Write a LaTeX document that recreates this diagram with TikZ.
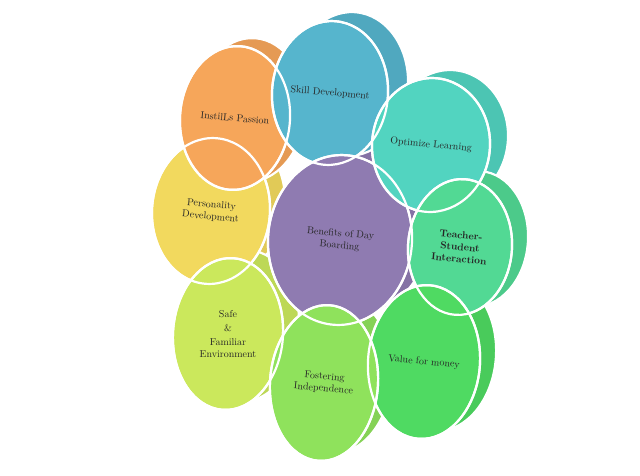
\documentclass[tikz,border=0pt]{standalone}
\usetikzlibrary{shapes.geometric}
\definecolor{OrangeF}{HTML}{F6A65A}
\definecolor{BlueF}{HTML}{56B5CD}
\definecolor{TealF}{HTML}{52D4C0}
\definecolor{YellowF}{HTML}{F2D95E}
\definecolor{PurpleF}{HTML}{8F7BB1}
\definecolor{MintF}{HTML}{52D994}
\definecolor{LimeF}{HTML}{CBE85C}
\definecolor{LeafF}{HTML}{8FE25C}
\definecolor{GreenF}{HTML}{4FDA62}
\begin{document}
\begin{tikzpicture}[
  x=1pt, y=-1pt,
  bubble/.style={ellipse, draw=white, line width=2.2pt, inner sep=0pt, rotate=-4},
  back/.style={bubble, fill=#1!93!black},
  front/.style={bubble, fill=#1},
  bubbletext/.style={align=center, font=\normalsize, rotate=-5, text=black!85}
]
\useasboundingbox (0,0) rectangle (640,476);
% back layer
\node[back=PurpleF, minimum width=144pt, minimum height=170pt] (benB) at (358,230) {};
\node[back=YellowF, minimum width=118pt, minimum height=146pt] (perB) at (226,203) {};
\node[back=OrangeF, minimum width=110pt, minimum height=144pt] (insB) at (250,110) {};
\node[back=BlueF, minimum width=116pt, minimum height=144pt] (sklB) at (350,84) {};
\node[back=TealF, minimum width=118pt, minimum height=134pt] (optB) at (449,137) {};
\node[back=MintF, minimum width=104pt, minimum height=136pt] (tsiB) at (476,239) {};
\node[back=LimeF, minimum width=110pt, minimum height=152pt] (sfeB) at (244,326) {};
\node[back=GreenF, minimum width=112pt, minimum height=154pt] (valB) at (440,354) {};
\node[back=LeafF, minimum width=108pt, minimum height=156pt] (fosB) at (338,375) {};
% front layer
\node[front=YellowF, minimum width=118pt, minimum height=146pt] (per) at (211,211) {};
\node[front=OrangeF, minimum width=110pt, minimum height=144pt] (ins) at (235,118) {};
\node[front=BlueF, minimum width=116pt, minimum height=144pt] (skl) at (330,93) {};
\node[front=PurpleF, minimum width=144pt, minimum height=170pt] (ben) at (340,240) {};
\node[front=TealF, minimum width=118pt, minimum height=134pt] (opt) at (431,145) {};
\node[front=MintF, minimum width=104pt, minimum height=136pt] (tsi) at (460,247) {};
\node[front=LimeF, minimum width=110pt, minimum height=152pt] (sfe) at (228,334) {};
\node[front=GreenF, minimum width=112pt, minimum height=154pt] (val) at (424,362) {};
\node[front=LeafF, minimum width=108pt, minimum height=156pt] (fos) at (324,383) {};
% outlines on top
\foreach \n/\w/\h in {per/118/146,ins/110/144,skl/116/144,ben/144/170,opt/118/134,tsi/104/136,sfe/110/152,val/112/154,fos/108/156}
  \node[bubble, minimum width=\w pt, minimum height=\h pt] at (\n.center) {};
% texts
\node[bubbletext] (insT) at (ins) {InstilLs Passion};
\node[bubbletext] (sklT) at (skl) {Skill Development};
\node[bubbletext] (optT) at (opt) {Optimize Learning};
\node[bubbletext] (perT) at (per) {Personality\\Development};
\node[bubbletext] (benT) at (ben) {Benefits of Day\\Boarding};
\node[bubbletext, font=\normalsize\bfseries] (tsiT) at (tsi) {Teacher-\\Student\\Interaction};
\node[bubbletext, rotate=5] (sfeT) at (sfe) {Safe\\[2pt]\&\\[2pt]Familiar\\Environment};
\node[bubbletext] (valT) at (val) {Value for money};
\node[bubbletext] (fosT) at (fos) {Fostering\\Independence};
\end{tikzpicture}
\end{document}
